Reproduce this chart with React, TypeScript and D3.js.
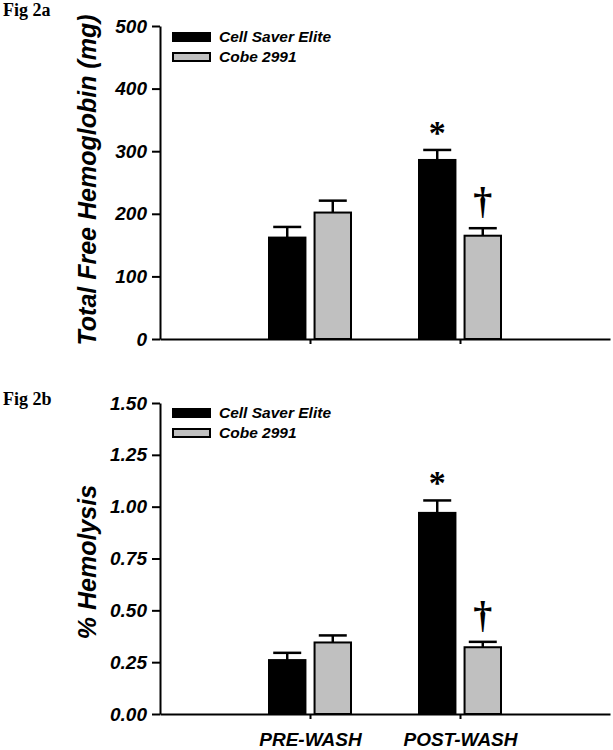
import React, { useEffect, useRef } from "react";
import * as d3 from "d3";

const groups = ["PRE-WASH", "POST-WASH"];
const seriesNames = ["Cell Saver Elite", "Cobe 2991"];
const seriesFill = ["#000000", "#c0c0c0"];

// Fig 2a - total free hemoglobin (mg)
const hbCellSaver = [162, 286];
const hbCellSaverErr = [17, 16];
const hbCobe = [202, 165];
const hbCobeErr = [19, 12];
const hbTicks = [0, 100, 200, 300, 400, 500];

// Fig 2b - % hemolysis
const hemoCellSaver = [0.26, 0.97];
const hemoCellSaverErr = [0.035, 0.06];
const hemoCobe = [0.345, 0.322];
const hemoCobeErr = [0.034, 0.026];
const hemoTicks = [0, 0.25, 0.5, 0.75, 1.0, 1.25, 1.5];

// significance marks: [series index, group index]
const starMarks = [[0, 1]];
const daggerMarks = [[1, 1]];

const W = 613;
const H = 750;
const FONT = "'Liberation Sans', Arial, sans-serif";

const App = () => {
  const svgRef = useRef<SVGSVGElement>(null);

  useEffect(() => {
    const root = d3.select(svgRef.current);
    root.selectAll("*").remove();

    const x = d3.scalePoint<string>().domain(groups).range([160, 610]).padding(1);
    const inner = d3
      .scaleBand<string>()
      .domain(seriesNames)
      .range([-41, 41])
      .paddingInner(0.2);

    const panel = (opts: {
      top: number;
      bottom: number;
      ticks: number[];
      fmt: (v: number) => string;
      means: number[][];
      errs: number[][];
      title: string;
      titleY: number;
      fig: string;
      figY: number;
      legendY: number;
      showLabels: boolean;
    }) => {
      const maxV = opts.ticks[opts.ticks.length - 1];
      const y = d3.scaleLinear().domain([0, maxV]).range([opts.bottom, opts.top]);
      const g = root.append("g");

      g.append("text")
        .attr("x", 3)
        .attr("y", opts.figY)
        .style("font-family", "'Liberation Serif', 'Times New Roman', serif")
        .style("font-weight", "bold")
        .style("font-size", "18px")
        .text(opts.fig);

      // bars
      seriesNames.forEach((s, si) => {
        groups.forEach((grp, gi) => {
          const bx = (x(grp) as number) + (inner(s) as number);
          const bw = inner.bandwidth();
          const v = opts.means[si][gi];
          const e = opts.errs[si][gi];
          const cx = bx + bw / 2;
          g.append("line")
            .attr("x1", cx)
            .attr("x2", cx)
            .attr("y1", y(v))
            .attr("y2", y(v + e))
            .attr("stroke", "#000")
            .attr("stroke-width", 2.5);
          g.append("line")
            .attr("x1", cx - 14)
            .attr("x2", cx + 14)
            .attr("y1", y(v + e))
            .attr("y2", y(v + e))
            .attr("stroke", "#000")
            .attr("stroke-width", 2.5);
          g.append("rect")
            .attr("x", bx)
            .attr("y", y(v))
            .attr("width", bw)
            .attr("height", y(0) - y(v))
            .attr("fill", seriesFill[si])
            .attr("stroke", "#000")
            .attr("stroke-width", 2);
        });
      });

      starMarks.forEach(([si, gi]) => {
        const cx = (x(groups[gi]) as number) + (inner(seriesNames[si]) as number) + inner.bandwidth() / 2;
        const top = y(opts.means[si][gi] + opts.errs[si][gi]);
        g.append("text")
          .attr("x", cx)
          .attr("y", top - 6)
          .attr("text-anchor", "middle")
          .style("font-family", "'Liberation Serif', serif")
          .style("font-weight", "bold")
          .style("font-size", "34px")
          .text("*");
      });
      daggerMarks.forEach(([si, gi]) => {
        const cx = (x(groups[gi]) as number) + (inner(seriesNames[si]) as number) + inner.bandwidth() / 2;
        const top = y(opts.means[si][gi] + opts.errs[si][gi]);
        g.append("text")
          .attr("x", cx)
          .attr("y", top - 14)
          .attr("text-anchor", "middle")
          .style("font-family", "'Liberation Serif', serif")
          .style("font-weight", "bold")
          .style("font-size", "38px")
          .text("\u2020");
      });

      // axes
      const yAxis = g
        .append("g")
        .attr("transform", "translate(160,0)")
        .call(
          d3
            .axisLeft(y)
            .tickValues(opts.ticks)
            .tickSize(8)
            .tickSizeOuter(0)
            .tickPadding(5)
            .tickFormat((d) => opts.fmt(d as number))
        );
      const xAxis = g
        .append("g")
        .attr("transform", `translate(0,${opts.bottom})`)
        .call(
          d3
            .axisBottom(x)
            .tickSize(5)
            .tickSizeOuter(0)
            .tickPadding(14)
            .tickFormat((d) => (opts.showLabels ? (d as string) : ""))
        );
      [yAxis, xAxis].forEach((a) => {
        a.selectAll("path,line").attr("stroke", "#000").attr("stroke-width", 2);
        a.selectAll("text")
          .attr("fill", "#000")
          .style("font-family", FONT)
          .style("font-weight", "bold")
          .style("font-style", "italic");
      });
      yAxis.selectAll("text").style("font-size", "19px");
      xAxis.selectAll("text").style("font-size", "19px");

      g.append("text")
        .attr("transform", `translate(96,${opts.titleY}) rotate(-90)`)
        .attr("text-anchor", "middle")
        .style("font-family", FONT)
        .style("font-weight", "bold")
        .style("font-style", "italic")
        .style("font-size", "25px")
        .text(opts.title);

      // legend
      seriesNames.forEach((s, i) => {
        const ly = opts.legendY + i * 20;
        g.append("rect")
          .attr("x", 173)
          .attr("y", ly)
          .attr("width", 37)
          .attr("height", 8)
          .attr("fill", seriesFill[i])
          .attr("stroke", "#000")
          .attr("stroke-width", 2);
        g.append("text")
          .attr("x", 219)
          .attr("y", ly + 9)
          .style("font-family", FONT)
          .style("font-weight", "bold")
          .style("font-style", "italic")
          .style("font-size", "15.5px")
          .text(s);
      });
    };

    panel({
      top: 26,
      bottom: 339,
      ticks: hbTicks,
      fmt: d3.format("d"),
      means: [hbCellSaver, hbCobe],
      errs: [hbCellSaverErr, hbCobeErr],
      title: "Total Free Hemoglobin (mg)",
      titleY: 180,
      fig: "Fig 2a",
      figY: 16,
      legendY: 33,
      showLabels: false,
    });
    panel({
      top: 403,
      bottom: 714,
      ticks: hemoTicks,
      fmt: d3.format(".2f"),
      means: [hemoCellSaver, hemoCobe],
      errs: [hemoCellSaverErr, hemoCobeErr],
      title: "% Hemolysis",
      titleY: 562,
      fig: "Fig 2b",
      figY: 405,
      legendY: 409,
      showLabels: true,
    });
  }, []);

  return (
    <svg
      ref={svgRef}
      width={W}
      height={H}
      style={{ position: "absolute", left: 0, top: 0, background: "#fff" }}
    />
  );
};

export default App;
